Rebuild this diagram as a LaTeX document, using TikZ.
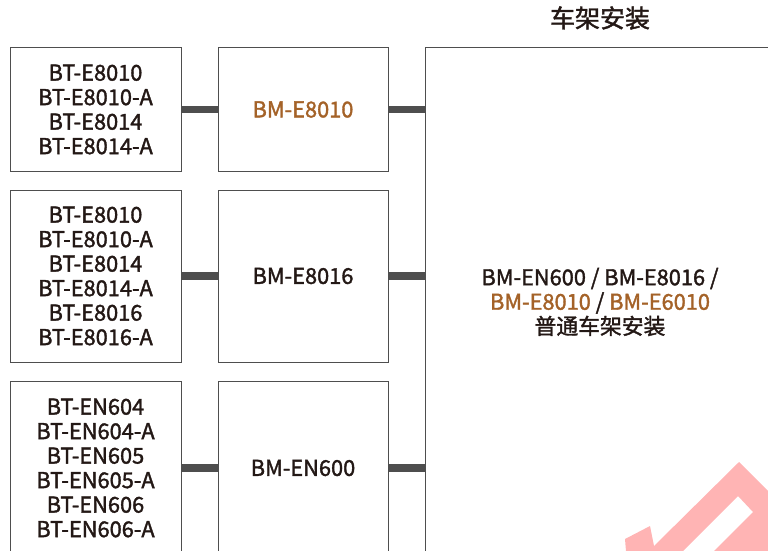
\documentclass[tikz,border=0pt]{standalone}
\usepackage{fontspec}
\setmainfont{Noto Sans CJK SC}[FakeBold=1.6]
\definecolor{ink}{RGB}{35,24,21}
\definecolor{bronze}{RGB}{164,98,40}
\definecolor{rulegray}{RGB}{78,78,78}
\definecolor{markpink}{RGB}{255,180,180}
\begin{document}
\begin{tikzpicture}[x=1pt,y=-1pt,
  every node/.style={font=\fontsize{21.8}{24.5}\selectfont,text=ink,align=center},
  box/.style={draw=rulegray,line width=1pt,inner sep=0pt},
  link/.style={rulegray,line width=7.5pt}]
\useasboundingbox (0,0) rectangle (768,551);
\node (title) at (600,18) {\fontsize{25}{28}\selectfont 车架安装};
\node[box,minimum width=350pt,minimum height=508pt] (frame) at (600,302) {BM-EN600 / BM-E8016 /\\{\color{bronze}BM-E8010} / {\color{bronze}BM-E6010}\\普通车架安装};
\node[box,minimum width=171pt,minimum height=123pt] (b1) at (95.5,109.5) {BT-E8010\\BT-E8010-A\\BT-E8014\\BT-E8014-A};
\node[box,minimum width=170pt,minimum height=123pt,text=bronze] (m1) at (303,109.5) {BM-E8010};
\node[box,minimum width=171pt,minimum height=172pt] (b2) at (95.5,276) {BT-E8010\\BT-E8010-A\\BT-E8014\\BT-E8014-A\\BT-E8016\\BT-E8016-A};
\node[box,minimum width=170pt,minimum height=172pt] (m2) at (303,276) {BM-E8016};
\node[box,minimum width=171pt,minimum height=174pt] (b3) at (95.5,468) {BT-EN604\\BT-EN604-A\\BT-EN605\\BT-EN605-A\\BT-EN606\\BT-EN606-A};
\node[box,minimum width=170pt,minimum height=174pt] (m3) at (303,468) {BM-EN600};
\draw[link] (b1) -- (m1);
\draw[link] (m1) -- (m1 -| frame.west);
\draw[link] (b2) -- (m2);
\draw[link] (m2) -- (m2 -| frame.west);
\draw[link] (b3) -- (m3);
\draw[link] (m3) -- (m3 -| frame.west);
% mark in the corner
\begin{scope}
\clip (0,0) rectangle (768,551);
\fill[markpink,even odd rule] (625,539) -- (650,526) -- (654,546) -- (739,462) -- (800,523) -- (800,600) -- (630,600) -- cycle
  (738,496) -- (753,512) -- (693,572) -- (678,556) -- cycle;
\end{scope}
\end{tikzpicture}
\end{document}
